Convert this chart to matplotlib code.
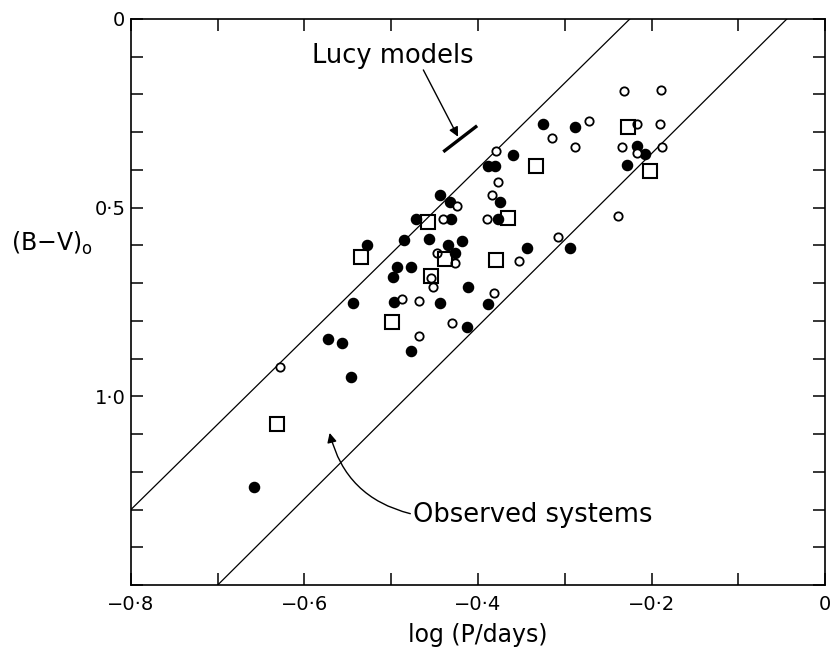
import matplotlib
matplotlib.use("Agg")
import matplotlib.pyplot as plt
from matplotlib.patches import FancyArrowPatch
from matplotlib.ticker import MultipleLocator, FuncFormatter

# filled circles
filled_x = [-0.444, -0.432, -0.472, -0.431, -0.528, -0.485, -0.457, -0.435, -0.418,
            -0.427, -0.493, -0.477, -0.498, -0.412, -0.544, -0.497, -0.444, -0.413,
            -0.557, -0.573, -0.477, -0.546, -0.658, -0.325, -0.288, -0.217, -0.208,
            -0.228, -0.360, -0.389, -0.380, -0.375, -0.377, -0.344, -0.294, -0.389]
filled_y = [0.466, 0.485, 0.530, 0.530, 0.599, 0.585, 0.583, 0.599, 0.588,
            0.620, 0.657, 0.657, 0.683, 0.710, 0.752, 0.750, 0.752, 0.816,
            0.858, 0.848, 0.879, 0.948, 1.240, 0.278, 0.286, 0.336, 0.358,
            0.387, 0.360, 0.389, 0.389, 0.485, 0.530, 0.607, 0.607, 0.755]

# open circles
open_x = [-0.424, -0.440, -0.447, -0.427, -0.454, -0.452, -0.488, -0.468, -0.430,
          -0.468, -0.628, -0.232, -0.189, -0.272, -0.315, -0.288, -0.217, -0.190,
          -0.234, -0.217, -0.188, -0.379, -0.377, -0.384, -0.390, -0.353, -0.239,
          -0.308, -0.382]
open_y = [0.495, 0.530, 0.620, 0.646, 0.686, 0.710, 0.742, 0.747, 0.805,
          0.840, 0.922, 0.191, 0.188, 0.270, 0.315, 0.339, 0.278, 0.278,
          0.339, 0.355, 0.339, 0.350, 0.432, 0.466, 0.530, 0.641, 0.522,
          0.577, 0.726]

# open squares
sq_x = [-0.458, -0.535, -0.438, -0.454, -0.499, -0.632, -0.227, -0.202, -0.333, -0.365, -0.379]
sq_y = [0.538, 0.630, 0.636, 0.681, 0.803, 1.073, 0.286, 0.403, 0.389, 0.527, 0.638]

# boundary lines of observed systems
upper_x = [-0.80, -0.225]
upper_y = [1.30, 0.0]
lower_x = [-0.70, -0.044]
lower_y = [1.50, 0.0]

# Lucy models segment
lucy_x = [-0.440, -0.401]
lucy_y = [0.352, 0.283]

fig = plt.figure(figsize=(8.31, 6.59), dpi=100)
ax = fig.add_axes([0.1576, 0.1123, 0.8352, 0.8589])

ax.plot(upper_x, upper_y, color="black", lw=0.9)
ax.plot(lower_x, lower_y, color="black", lw=0.9)
ax.plot(lucy_x, lucy_y, color="black", lw=2.4, solid_capstyle="butt")

ax.plot(filled_x, filled_y, "o", ms=7.3, color="black", mec="black", ls="none")
ax.plot(open_x, open_y, "o", ms=6, mfc="white", mec="black", mew=1.3, ls="none")
ax.plot(sq_x, sq_y, "s", ms=9.5, mfc="none", mec="black", mew=1.5, ls="none")

ax.set_xlim(-0.8, 0)
ax.set_ylim(1.5, 0)

ax.xaxis.set_major_locator(MultipleLocator(0.2))
ax.xaxis.set_minor_locator(MultipleLocator(0.1))
ax.yaxis.set_major_locator(MultipleLocator(0.5))
ax.yaxis.set_minor_locator(MultipleLocator(0.1))

def fmt(v, pos):
    if abs(v) < 1e-9:
        return "0"
    s = "%.1f" % abs(v)
    s = s.replace(".", "·")
    return ("\u2212" + s) if v < 0 else s

def yfmt(v, pos):
    if v > 1.25:
        return ""
    return fmt(v, pos)

ax.xaxis.set_major_formatter(FuncFormatter(fmt))
ax.yaxis.set_major_formatter(FuncFormatter(yfmt))

ax.tick_params(which="both", direction="in", length=8.5, width=1.1,
               top=True, right=True, labelsize=14)
ax.tick_params(axis="x", pad=7)
ax.tick_params(axis="y", pad=4)
for sp in ax.spines.values():
    sp.set_linewidth(1.2)

ax.text(0.5, -0.088, "log (P/days)", transform=ax.transAxes,
        ha="center", va="center", fontsize=17)
ax.text(-0.114, 0.604, "(B\u2212V)$_\\mathregular{o}$", transform=ax.transAxes,
        ha="center", va="center", fontsize=17)

ax.text(-0.498, 0.098, "Lucy models", ha="center", va="center", fontsize=18.5)
ax.annotate("", xy=(-0.423, 0.312), xytext=(-0.463, 0.135),
            arrowprops=dict(arrowstyle="-|>", color="black", lw=1.0,
                            mutation_scale=14, shrinkA=0, shrinkB=0))

ax.text(-0.475, 1.314, "Observed systems", ha="left", va="center", fontsize=18.5)
arr = FancyArrowPatch((-0.478, 1.311), (-0.571, 1.097),
                      connectionstyle="arc3,rad=-0.3", arrowstyle="-|>",
                      mutation_scale=14, color="black", lw=1.0,
                      shrinkA=0, shrinkB=0)
ax.add_patch(arr)

fig.savefig("out.png", dpi=100)
